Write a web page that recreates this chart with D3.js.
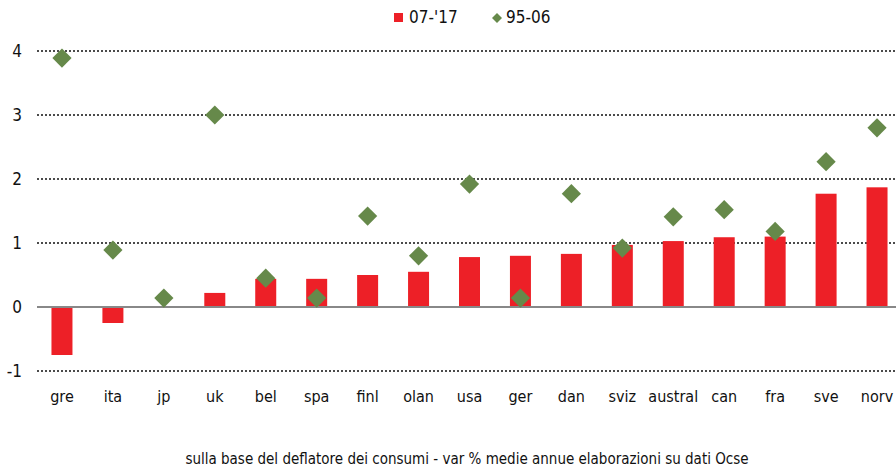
<!DOCTYPE html>
<html>
<head>
<meta charset="utf-8">
<script src="https://cdn.jsdelivr.net/npm/d3@7"></script>
<style>
  body { margin: 0; background: #fff; }
  text { font-family: "DejaVu Sans Condensed", "Liberation Sans Narrow", sans-serif; font-stretch: condensed; fill: #111; }
</style>
</head>
<body>
<div id="chart"></div>
<script>
const countries = ["gre", "ita", "jp", "uk", "bel", "spa", "finl", "olan", "usa", "ger", "dan", "sviz", "austral", "can", "fra", "sve", "norv"];
const recent = [-0.75, -0.25, 0.0, 0.22, 0.44, 0.44, 0.5, 0.55, 0.78, 0.8, 0.83, 0.97, 1.03, 1.09, 1.1, 1.77, 1.87];
const older = [3.89, 0.89, 0.14, 3.0, 0.45, 0.14, 1.42, 0.8, 1.92, 0.14, 1.77, 0.92, 1.41, 1.52, 1.18, 2.27, 2.8];
const yTicks = [-1, 0, 1, 2, 3, 4];
const legendLabels = ["07-'17", "95-06"];
const footnote = "sulla base del deflatore dei consumi - var % medie annue elaborazioni su dati Ocse";

const width = 896, height = 468;
const red = "#ed2027", green = "#66894a";

const svg = d3.select("#chart").append("svg")
    .attr("width", width)
    .attr("height", height);

const x = d3.scaleBand()
    .domain(countries)
    .range([36.5, 902.5]);

const y = d3.scaleLinear()
    .domain([-1, 4])
    .range([371, 51]);

// gridlines
svg.append("g")
    .selectAll("line")
    .data(yTicks.filter(d => d !== 0))
    .enter().append("line")
    .attr("x1", 37)
    .attr("x2", width)
    .attr("y1", d => y(d))
    .attr("y2", d => y(d))
    .attr("stroke", "#111")
    .attr("stroke-width", 1.3)
    .attr("stroke-dasharray", "2,2");

// y axis labels
const yAxis = svg.append("g")
    .attr("transform", "translate(22,0)")
    .call(d3.axisLeft(y).tickValues(yTicks).tickSize(0).tickPadding(0)
        .tickFormat(d => (d < 0 ? "-" : "") + Math.abs(d)));
yAxis.select(".domain").remove();
yAxis.selectAll("text")
    .style("font-size", "17px")
    .attr("dy", "0.35em");

// bars
const barW = 21;
svg.append("g")
    .selectAll("rect")
    .data(countries)
    .enter().append("rect")
    .attr("x", d => x(d) + x.bandwidth() / 2 - barW / 2)
    .attr("y", (d, i) => y(Math.max(0, recent[i])))
    .attr("width", barW)
    .attr("height", (d, i) => Math.abs(y(recent[i]) - y(0)))
    .attr("fill", red);

// zero line
svg.append("line")
    .attr("x1", 37)
    .attr("x2", width)
    .attr("y1", y(0))
    .attr("y2", y(0))
    .attr("stroke", "#888")
    .attr("stroke-width", 2);

// diamonds
const diamond = d3.symbol().type(d3.symbolSquare).size(185);
svg.append("g")
    .selectAll("path")
    .data(countries)
    .enter().append("path")
    .attr("d", diamond)
    .attr("transform", (d, i) => "translate(" + (x(d) + x.bandwidth() / 2) + "," + y(older[i]) + ") rotate(45)")
    .attr("fill", green);

// x labels
svg.append("g")
    .selectAll("text")
    .data(countries)
    .enter().append("text")
    .attr("x", d => x(d) + x.bandwidth() / 2)
    .attr("y", 402)
    .attr("text-anchor", "middle")
    .style("font-size", "16px")
    .text(d => d);

// legend
const legend = svg.append("g");
legend.append("rect")
    .attr("x", 394)
    .attr("y", 13)
    .attr("width", 9)
    .attr("height", 9)
    .attr("fill", red);
legend.append("text")
    .attr("x", 409)
    .attr("y", 23)
    .style("font-size", "17px")
    .text(legendLabels[0]);
legend.append("path")
    .attr("d", d3.symbol().type(d3.symbolSquare).size(50))
    .attr("transform", "translate(497,18) rotate(45)")
    .attr("fill", green);
legend.append("text")
    .attr("x", 506)
    .attr("y", 23)
    .style("font-size", "17px")
    .text(legendLabels[1]);

// footnote
svg.append("text")
    .attr("x", 467)
    .attr("y", 464)
    .attr("text-anchor", "middle")
    .style("font-size", "15px")
    .text(footnote);
</script>
</body>
</html>
